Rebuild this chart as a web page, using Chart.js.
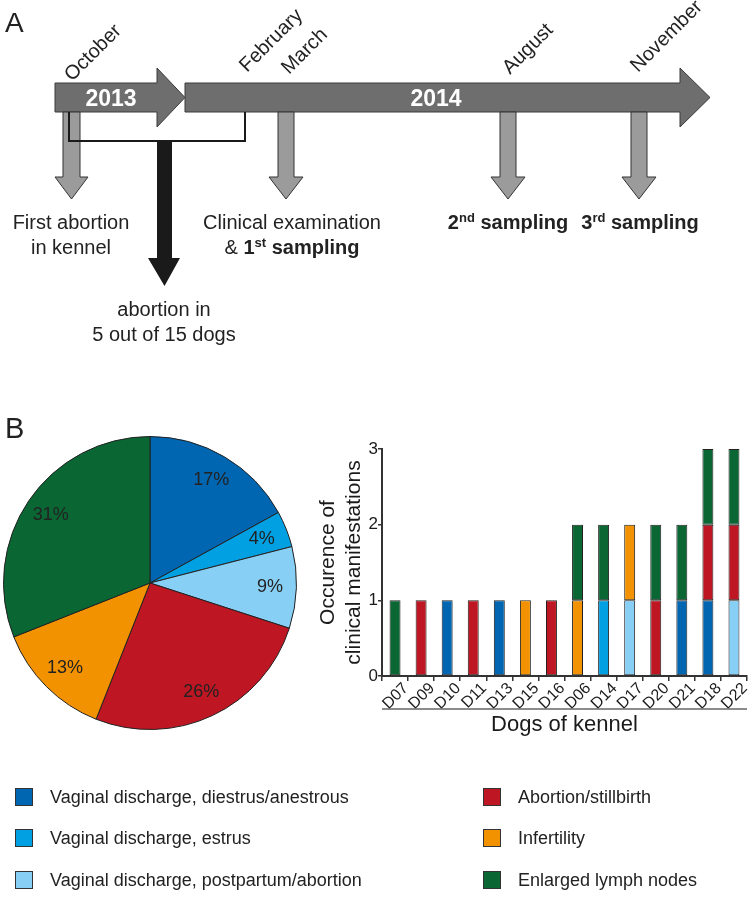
<!DOCTYPE html>
<html>
<head>
<meta charset="utf-8">
<script src="https://cdn.jsdelivr.net/npm/chart.js@4.4.1/dist/chart.umd.min.js"></script>
<style>
  body { margin: 0; background: #fff; }
  #page { position: relative; width: 749px; height: 898px; overflow: hidden; font-family: "Liberation Sans", Arial, sans-serif; color: #222; }
  #pieChart { position: absolute; left: 3px; top: 436px; }
  #barChart { position: absolute; left: 300px; top: 430px; }
  svg { position: absolute; left: 0; top: 0; }
  .leg { position: absolute; font-size: 18px; line-height: 20px; white-space: nowrap; }
  .box { position: absolute; width: 16px; height: 16px; border: 1px solid #333; }
</style>
</head>
<body>
<div id="page">
  <canvas id="pieChart" width="294" height="294"></canvas>
  <canvas id="barChart" width="449" height="320"></canvas>

  <svg width="749" height="898" font-family="Liberation Sans, Arial, sans-serif" fill="#222">
    <text x="5" y="32" font-size="28">A</text>
    <text x="5" y="438" font-size="29">B</text>

    <!-- timeline -->
    <polygon points="55,83 157,83 157,68 185,97.5 157,127 157,112 55,112" fill="#6e6e6e" stroke="#3a3a3a" stroke-width="1"/>
    <polygon points="185,83 680,83 680,68 710,97.5 680,127 680,112 185,112" fill="#6e6e6e" stroke="#3a3a3a" stroke-width="1"/>
    <text x="111" y="106" font-size="23" font-weight="bold" fill="#fff" text-anchor="middle">2013</text>
    <text x="436" y="106" font-size="23" font-weight="bold" fill="#fff" text-anchor="middle">2014</text>

    <g font-size="20">
      <text transform="translate(72,82) rotate(-45)">October</text>
      <text transform="translate(247,73) rotate(-45)">February</text>
      <text transform="translate(289,75) rotate(-45)">March</text>
      <text transform="translate(510,75) rotate(-45)">August</text>
      <text transform="translate(638,73) rotate(-45)">November</text>
    </g>

    <!-- event arrows -->
    <g fill="#9b9b9b" stroke="#333" stroke-width="1">
      <polygon points="63,112 80,112 80,177 88,177 71.5,199 55,177 63,177"/>
      <polygon points="278,112 294,112 294,177 303,177 286,199 269,177 278,177"/>
      <polygon points="500,112 516,112 516,177 525,177 508,199 491,177 500,177"/>
      <polygon points="631,112 647,112 647,177 656,177 639,199 622,177 631,177"/>
    </g>
    <polygon points="157,141 172,141 172,258 180,258 164.5,286 148,258 157,258" fill="#1a1a1a"/>
    <path d="M69 112 V141 H245 V112" fill="none" stroke="#1a1a1a" stroke-width="2"/>

    <g font-size="20" text-anchor="middle">
      <text x="71" y="229">First abortion</text>
      <text x="71" y="254">in kennel</text>
      <text x="292" y="229">Clinical examination</text>
      <text x="292" y="254">&amp; <tspan font-weight="bold">1<tspan dy="-7" font-size="13">st</tspan><tspan dy="7"> sampling</tspan></tspan></text>
      <text x="508" y="229" font-weight="bold">2<tspan dy="-7" font-size="13">nd</tspan><tspan dy="7"> sampling</tspan></text>
      <text x="640" y="229" font-weight="bold">3<tspan dy="-7" font-size="13">rd</tspan><tspan dy="7"> sampling</tspan></text>
      <text x="164" y="316">abortion in</text>
      <text x="164" y="341">5 out of 15 dogs</text>
    </g>
  </svg>
  <div id="legend"></div>
</div>

<script>
// categories
const dogs = ['D07', 'D09', 'D10', 'D11', 'D13', 'D15', 'D16', 'D06', 'D14', 'D17', 'D20', 'D21', 'D18', 'D22'];
const manifestations = [
  'Vaginal discharge, diestrus/anestrous',
  'Vaginal discharge, estrus',
  'Vaginal discharge, postpartum/abortion',
  'Abortion/stillbirth',
  'Infertility',
  'Enlarged lymph nodes'
];
const colors = ['#0066b2', '#00a0e2', '#88cff5', '#be1622', '#f39200', '#0a6633'];

// pie: share of all manifestations (%)
const sharePct = [17, 4, 9, 26, 13, 31];

// bars: occurrence per dog
const diestrus    = [0, 0, 1, 0, 1, 0, 0, 0, 0, 0, 0, 1, 1, 0];
const estrus      = [0, 0, 0, 0, 0, 0, 0, 0, 1, 0, 0, 0, 0, 0];
const postpartum  = [0, 0, 0, 0, 0, 0, 0, 0, 0, 1, 0, 0, 0, 1];
const abortion    = [0, 1, 0, 1, 0, 0, 1, 0, 0, 0, 1, 0, 1, 1];
const infertility = [0, 0, 0, 0, 0, 1, 0, 1, 0, 1, 0, 0, 0, 0];
const lymph       = [1, 0, 0, 0, 0, 0, 0, 1, 1, 0, 1, 1, 1, 1];
const yTicks = [0, 1, 2, 3];

const series = [diestrus, estrus, postpartum, abortion, infertility, lymph];

Chart.defaults.font.family = '"Liberation Sans", Arial, sans-serif';
Chart.defaults.color = '#1a1a1a';

// percentage labels inside the slices
const pieLabels = {
  id: 'pieLabels',
  afterDatasetsDraw(chart) {
    const ctx = chart.ctx;
    ctx.save();
    ctx.font = '18px "Liberation Sans", Arial';
    ctx.fillStyle = '#222';
    ctx.textAlign = 'center';
    ctx.textBaseline = 'middle';
    chart.getDatasetMeta(0).data.forEach((arc, i) => {
      const p = arc.getProps(['x', 'y', 'startAngle', 'endAngle', 'outerRadius']);
      const mid = (p.startAngle + p.endAngle) / 2;
      const r = p.outerRadius * 0.82;
      ctx.fillText(sharePct[i] + '%', p.x + Math.cos(mid) * r, p.y + Math.sin(mid) * r);
    });
    ctx.restore();
  }
};

new Chart(document.getElementById('pieChart'), {
  type: 'pie',
  data: {
    labels: manifestations,
    datasets: [{
      data: sharePct,
      backgroundColor: colors,
      borderColor: '#222',
      borderWidth: 1,
      hoverOffset: 0
    }]
  },
  options: {
    responsive: false,
    animation: false,
    layout: { padding: 0 },
    plugins: { legend: { display: false }, tooltip: { enabled: false } }
  },
  plugins: [pieLabels]
});

// thin line under the dog labels
const axisUnderline = {
  id: 'axisUnderline',
  afterDraw(chart) {
    const x = chart.scales.x;
    const ctx = chart.ctx;
    ctx.save();
    ctx.strokeStyle = '#666';
    ctx.lineWidth = 1.5;
    ctx.beginPath();
    ctx.moveTo(x.left, x.top + 33);
    ctx.lineTo(x.right, x.top + 33);
    ctx.stroke();
    ctx.restore();
  }
};

new Chart(document.getElementById('barChart'), {
  type: 'bar',
  data: {
    labels: dogs,
    datasets: series.map((vals, i) => ({
      label: manifestations[i],
      data: vals.map(v => v || null),
      backgroundColor: colors[i],
      borderColor: '#222',
      borderWidth: 1,
      borderSkipped: false,
      barPercentage: 0.42,
      categoryPercentage: 1
    }))
  },
  options: {
    responsive: false,
    animation: false,
    layout: { padding: { top: 19, right: 2, left: 0, bottom: 0 } },
    plugins: { legend: { display: false }, tooltip: { enabled: false } },
    scales: {
      x: {
        stacked: true,
        afterFit: s => { s.height = 74; },
        border: { color: '#333', width: 2 },
        grid: { drawOnChartArea: false, tickLength: 5, color: '#333', lineWidth: 1.5 },
        ticks: { font: { size: 16 }, minRotation: 45, maxRotation: 45, padding: -2, labelOffset: 11, autoSkip: false },
        title: { display: true, text: 'Dogs of kennel', font: { size: 22 }, padding: { top: 0, bottom: 12 } }
      },
      y: {
        stacked: true,
        min: yTicks[0],
        max: yTicks[yTicks.length - 1],
        afterFit: s => { s.width = 82; },
        afterBuildTicks: s => { s.ticks = yTicks.map(v => ({ value: v })); },
        border: { color: '#333', width: 2 },
        grid: { drawOnChartArea: false, tickLength: 4, color: '#333', lineWidth: 1.5 },
        ticks: { font: { size: 17 }, padding: 0 },
        title: { display: true, text: ['Occurence of', 'clinical manifestations'], font: { size: 21 }, padding: { top: 16, bottom: 0 } }
      }
    }
  },
  plugins: [axisUnderline]
});

// legend below both charts
const legendRows = [797, 838, 880];
const legend = document.getElementById('legend');
manifestations.forEach((name, i) => {
  const col = Math.floor(i / 3);
  const y = legendRows[i % 3];
  const boxX = col ? 483 : 15;
  const textX = col ? 518 : 50;
  const box = document.createElement('div');
  box.className = 'box';
  box.style.left = boxX + 'px';
  box.style.top = (y - 9) + 'px';
  box.style.background = colors[i];
  legend.appendChild(box);
  const t = document.createElement('div');
  t.className = 'leg';
  t.style.left = textX + 'px';
  t.style.top = (y - 10) + 'px';
  t.textContent = name;
  legend.appendChild(t);
});
</script>
</body>
</html>
